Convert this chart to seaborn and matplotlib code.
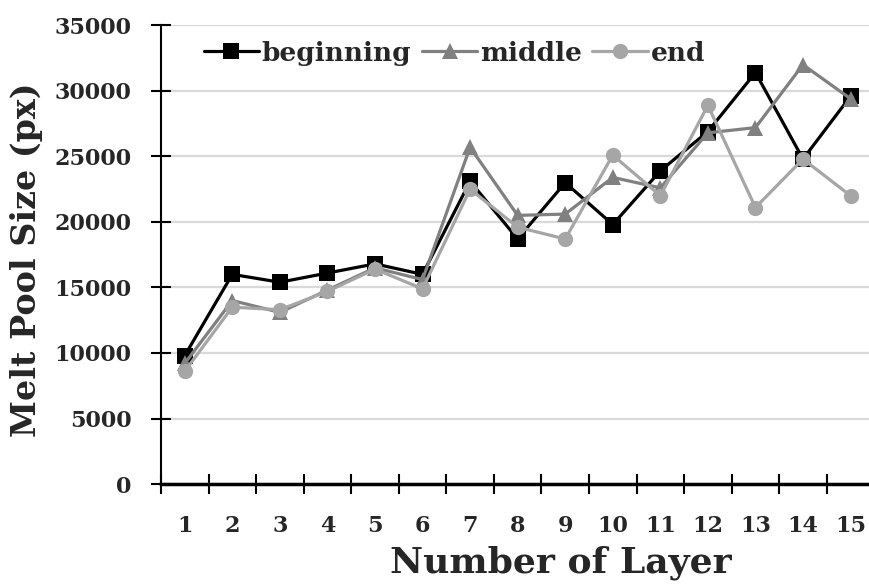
import numpy as np
import pandas as pd
import matplotlib
matplotlib.use("Agg")
import matplotlib.pyplot as plt
import seaborn as sns

layers = list(range(1, 16))

beginning = [9800, 16000, 15400, 16100, 16800, 16000, 23100, 18700,
             23000, 19800, 23900, 26900, 31400, 24800, 29600]
middle = [9200, 14000, 13100, 14800, 16500, 15600, 25700, 20500,
          20600, 23400, 22600, 26800, 27200, 32000, 29400]
end = [8600, 13500, 13300, 14700, 16400, 14900, 22500, 19600,
       18700, 25100, 22000, 28900, 21100, 24800, 22000]

series_names = ["beginning", "middle", "end"]
y_ticks = [0, 5000, 10000, 15000, 20000, 25000, 30000, 35000]

df = pd.DataFrame({
    "layer": layers * 3,
    "size": beginning + middle + end,
    "position": np.repeat(series_names, len(layers)),
})

sns.set_style("white")
plt.rcParams["font.family"] = ["DejaVu Serif"]
plt.rcParams["font.weight"] = "bold"

fig = plt.figure(figsize=(8.7, 5.85), dpi=100)
ax = fig.add_axes([0.185, 0.1726, 0.82, 0.784])

palette = {"beginning": "#000000", "middle": "#808080", "end": "#a6a6a6"}
markers = {"beginning": "s", "middle": "^", "end": "o"}

sns.lineplot(
    data=df,
    x="layer",
    y="size",
    hue="position",
    style="position",
    palette=palette,
    markers=markers,
    dashes=False,
    linewidth=2.3,
    markersize=11,
    markeredgewidth=0,
    ax=ax,
)

ax.set_xlim(0.5, 15.5)
ax.set_ylim(0, 35000)

ax.set_yticks(y_ticks)
ax.set_yticklabels([str(v) for v in y_ticks], fontsize=16, fontweight="bold")
ax.yaxis.grid(True, color="#d9d9d9", linewidth=1.6)
ax.set_axisbelow(True)

ax.set_xticks(np.arange(0.5, 16, 1))
ax.set_xticklabels([])
ax.set_xticks(layers, minor=True)
ax.set_xticklabels([str(v) for v in layers], minor=True,
                   fontsize=16, fontweight="bold")

ax.tick_params(axis="y", which="major", left=True, direction="inout",
               length=14, width=1.5, color="black", pad=14)
ax.tick_params(axis="x", which="major", bottom=True, direction="inout",
               length=15, width=1.5, color="black")
ax.tick_params(axis="x", which="minor", bottom=True, length=0, pad=22)

for side in ["top", "right"]:
    ax.spines[side].set_visible(False)
ax.spines["left"].set_color("black")
ax.spines["left"].set_linewidth(1.5)
ax.spines["bottom"].set_color("black")
ax.spines["bottom"].set_linewidth(2.5)

ax.set_xlabel("Number of Layer", fontsize=26, fontweight="bold")
ax.set_ylabel("Melt Pool Size (px)", fontsize=24, fontweight="bold")
ax.xaxis.set_label_coords(0.56, -0.135)
ax.yaxis.set_label_coords(-0.165, 0.49)

handles, labels = ax.get_legend_handles_labels()
ax.legend(
    handles, labels,
    loc="upper left",
    bbox_to_anchor=(0.045, 0.99),
    ncol=3,
    frameon=False,
    handlelength=2.1,
    handletextpad=0.1,
    columnspacing=0.4,
    borderaxespad=0.0,
    prop={"weight": "bold", "size": 19},
)

fig.savefig("out.png", dpi=100)
